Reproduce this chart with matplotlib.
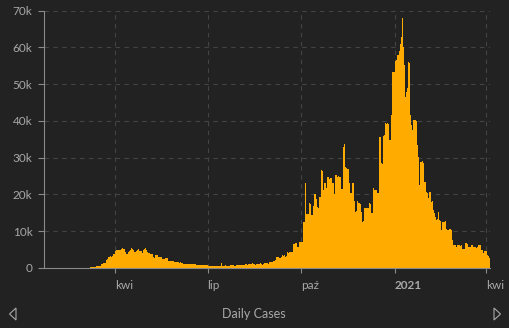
import numpy as np
import pandas as pd
import matplotlib
matplotlib.use("Agg")
import matplotlib.pyplot as plt
import matplotlib.transforms as mtransforms
from matplotlib.patches import Polygon

# daily new cases, in thousands (22 Jan 2020 -> 4 Apr 2021)
jan20 = [0, 0, 0, 0, 0, 0, 0, 0, 0, 0]
feb20 = [0, 0, 0, 0, 0, 0, 0, 0, 0, 0, 0, 0, 0, 0, 0, 0, 0, 0, 0, 0,
         0, 0, 0, 0, 0, 0, 0.01, 0.01, 0.01]
mar20 = [0.01, 0.01, 0.01, 0.03, 0.03, 0.05, 0.2, 0.3, 0.3, 0.35, 0.35, 0.4, 0.45, 0.5, 0.5,
         0.55, 0.6, 1.0, 1.2, 1.3, 1.3, 1.4, 2.2, 2.5, 3.0, 3.1, 3.2, 3.1, 3.3, 3.7, 3.9]
apr20 = [4.7, 4.8, 4.8, 5.0, 4.8, 4.9, 5.3, 5.4, 5.2, 5.1, 4.4, 3.9, 3.8, 4.3, 4.7,
         5.0, 5.4, 5.3, 4.8, 4.4, 4.3, 4.7, 5.0, 5.1, 4.7, 4.5, 4.1, 4.8, 5.3, 5.5]
may20 = [5.0, 4.4, 4.1, 4.0, 3.8, 3.8, 3.9, 2.9, 2.8, 3.6, 3.6, 3.5, 3.1, 3.1, 3.0, 3.1,
         2.4, 2.4, 2.5, 2.7, 2.7, 2.6, 2.0, 2.0, 1.9, 1.8, 1.8, 1.8, 1.7, 1.6, 1.6]
jun20 = [1.6, 1.5, 1.4, 1.5, 1.3, 1.3, 1.2, 1.1, 1.1, 1.2, 1.1, 1.1, 1.0, 1.1, 1.0,
         1.1, 1.1, 1.0, 1.0, 0.95, 0.9, 0.9, 0.85, 0.8, 0.75, 0.75, 0.7, 0.7, 0.75, 0.7]
jul20 = [0.6, 0.55, 0.55, 0.6, 0.5, 0.45, 0.55, 0.55, 0.6, 0.55, 0.6, 0.5, 0.5, 1.45, 0.55,
         0.6, 0.65, 0.7, 0.65, 0.6, 0.55, 0.65, 0.7, 0.75, 0.7, 0.75, 0.65, 0.6, 0.75, 0.8, 0.8]
aug20 = [0.85, 0.75, 0.7, 0.8, 0.9, 0.95, 1.0, 1.0, 0.85, 1.0, 1.1, 1.1, 1.05, 1.3, 1.1, 1.0,
         0.75, 1.1, 1.2, 1.2, 1.1, 1.3, 1.2, 0.9, 1.1, 1.3, 1.4, 1.3, 1.2, 1.5, 1.6]
sep20 = [1.6, 1.7, 2.0, 2.0, 2.1, 2.9, 3.0, 3.1, 2.8, 2.8, 2.9, 3.5, 3.4, 3.5, 3.1,
         3.2, 4.3, 4.2, 4.3, 4.3, 4.3, 4.4, 6.5, 6.6, 6.8, 6.9, 5.8, 5.7, 7.1, 7.1]
oct20 = [7.1, 7.0, 12.6, 12.6, 23.0, 14.8, 14.8, 14.7, 17.6, 17.5, 14.3, 14.3, 16.9, 20.1, 20.0, 18.7,
         16.5, 16.4, 19.3, 19.3, 26.6, 26.5, 21.2, 23.0, 23.0, 21.8, 24.8, 24.8, 24.3, 24.4, 23.2]
nov20 = [23.2, 20.0, 25.3, 25.2, 24.8, 24.9, 24.7, 24.8, 21.4, 21.5, 33.0, 33.7, 27.5, 27.3, 26.9,
         26.8, 23.0, 20.3, 20.4, 23.1, 23.0, 18.1, 15.3, 15.4, 18.1, 17.6, 17.6, 17.5, 15.3, 12.6]
dec20 = [12.7, 16.3, 16.3, 16.2, 16.3, 16.3, 17.6, 17.5, 14.9, 14.9, 21.7, 21.3, 21.3, 21.2, 20.4, 20.4,
         35.7, 35.6, 28.5, 28.4, 36.0, 36.1, 39.4, 39.3, 39.4, 39.3, 34.8, 34.7, 41.6, 53.3, 53.2]
jan21 = [56.3, 56.5, 57.9, 58.0, 59.0, 61.0, 62.9, 68.1, 60.2, 55.2, 46.6, 47.9, 49.0, 56.0, 55.8, 41.6,
         38.9, 37.5, 40.2, 40.3, 40.2, 40.0, 33.5, 30.2, 22.6, 28.9, 28.8, 29.1, 28.7, 23.5, 23.3]
feb21 = [20.7, 20.5, 19.0, 20.7, 20.6, 18.0, 18.1, 15.8, 15.0, 13.9, 13.0, 13.2, 15.3, 13.0,
         12.9, 10.3, 12.6, 12.6, 12.5, 12.7, 10.6, 10.4, 10.3, 10.6, 10.5, 10.3, 7.6, 6.2]
mar21 = [6.3, 6.2, 5.8, 6.2, 6.3, 5.9, 6.2, 5.2, 5.2, 5.3, 6.7, 6.8, 6.6, 5.8, 5.6, 5.8,
         6.2, 6.3, 5.8, 5.6, 5.6, 5.5, 5.7, 6.2, 6.3, 6.2, 4.9, 4.8, 4.0, 4.7, 4.7]
apr21 = [4.6, 3.5, 3.4, 2.6]

tick_dates = ["2020-04-01", "2020-07-01", "2020-10-01", "2021-01-01", "2021-04-01"]
tick_labels = ["kwi", "lip", "paź", "2021", "kwi"]
y_ticks = [0, 10000, 20000, 30000, 40000, 50000, 60000, 70000]
y_labels = ["0", "10k", "20k", "30k", "40k", "50k", "60k", "70k"]

cases = np.array(jan20 + feb20 + mar20 + apr20 + may20 + jun20 + jul20 + aug20 + sep20
                 + oct20 + nov20 + dec20 + jan21 + feb21 + mar21 + apr21) * 1000
days = pd.date_range("2020-01-22", periods=len(cases), freq="D")

bg = "#222222"
txt = "#a8a8a8"
plt.rcParams["font.family"] = ["Lato", "DejaVu Sans"]

fig = plt.figure(figsize=(5.09, 3.28), dpi=100, facecolor=bg)
ax = fig.add_axes([44 / 509, 1 - 268 / 328, 446 / 509, (268 - 10.7) / 328])
ax.set_facecolor(bg)

ax.bar(days, cases, width=1.0, align="edge", color="#ffab00", linewidth=0, zorder=3)

ax.set_ylim(0, 70000)
ax.set_xlim(pd.Timestamp("2020-01-22"), pd.Timestamp("2021-04-05"))
ax.set_yticks(y_ticks)
ax.set_yticklabels(y_labels)
ax.set_xticks(pd.to_datetime(tick_dates))
ax.set_xticklabels(tick_labels)

# month labels sit just right of their tick
shift = mtransforms.ScaledTranslation(2.5 / 100, 0, fig.dpi_scale_trans)
for i, lab in enumerate(ax.get_xticklabels()):
    lab.set_horizontalalignment("left")
    lab.set_transform(lab.get_transform() + shift)
    if tick_labels[i] == "2021":
        lab.set_fontweight("bold")

ax.grid(True, color="#444444", linestyle=(0, (4, 4)), linewidth=0.8, zorder=0)
for side in ["top", "right"]:
    ax.spines[side].set_visible(False)
for side in ["left", "bottom"]:
    ax.spines[side].set_color("#8a8a8a")
    ax.spines[side].set_linewidth(0.8)
    ax.spines[side].set_zorder(4)

ax.tick_params(axis="y", colors="#8a8a8a", labelcolor=txt, labelsize=8.5, length=4.3, width=0.8, pad=4)
ax.tick_params(axis="x", colors="#8a8a8a", labelcolor=txt, labelsize=8.5, length=3.5, width=0.8, pad=5)

fig.text(254 / 509, 1 - 314 / 328, "Daily Cases", color=txt, fontsize=9, ha="center", va="center")

# paging arrows
left_arrow = Polygon([[16 / 509, 1 - 308 / 328], [9.5 / 509, 1 - 314 / 328], [16 / 509, 1 - 320 / 328]],
                     closed=True, fill=False, edgecolor=txt, linewidth=0.8, transform=fig.transFigure)
right_arrow = Polygon([[494 / 509, 1 - 308 / 328], [500.5 / 509, 1 - 314 / 328], [494 / 509, 1 - 320 / 328]],
                      closed=True, fill=False, edgecolor=txt, linewidth=0.8, transform=fig.transFigure)
fig.patches.append(left_arrow)
fig.patches.append(right_arrow)

fig.savefig("out.png", dpi=100, facecolor=bg)
